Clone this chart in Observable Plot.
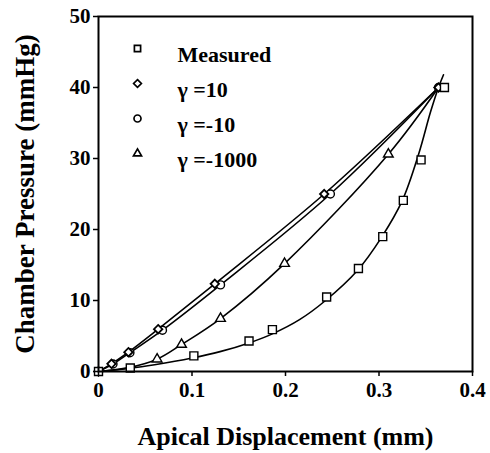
<!DOCTYPE html>
<html>
<head>
<meta charset="utf-8">
<script src="https://cdn.jsdelivr.net/npm/d3@7"></script>
<script src="https://cdn.jsdelivr.net/npm/@observablehq/plot@0.6"></script>
<style>
  html, body { margin: 0; padding: 0; background: #fff; }
  #chart svg { display: block; }
  #chart svg, #chart svg text { font-family: "Liberation Serif", "Times New Roman", serif !important; font-weight: bold; }
  g[aria-label="x-axis label"] text { font-size: 26px; }
  g[aria-label="y-axis label"] text { font-size: 27px; }
</style>
</head>
<body>
<div id="chart"></div>
<script>
// ---- data ----
const xTicks = [0, 0.1, 0.2, 0.3, 0.4];
const yTicks = [0, 10, 20, 30, 40, 50];

// Measured points (squares)
const measuredX = [0, 0.034, 0.102, 0.161, 0.186, 0.244, 0.278, 0.304, 0.326, 0.345, 0.370];
const measuredY = [0, 0.5, 2.2, 4.3, 5.9, 10.5, 14.5, 19.0, 24.1, 29.8, 40.0];
// Measured fitted curve
const measuredFitX = [0, 0.034, 0.06, 0.1, 0.13, 0.1626, 0.186, 0.215, 0.2428, 0.2767, 0.3027, 0.325, 0.3426, 0.355, 0.3636, 0.369];
const measuredFitY = [0, 0.45, 0.95, 1.9, 2.8, 4.1, 5.3, 7.3, 10.0, 14.2, 18.9, 24.1, 30.7, 36.5, 40.0, 41.8];

// gamma = 10 (diamonds)
const g10X = [0, 0.0139, 0.032, 0.0638, 0.1244, 0.2414, 0.3636];
const g10Y = [0, 1.08, 2.72, 5.96, 12.35, 25.0, 40.0];
// gamma = -10 (circles)
const gm10X = [0, 0.0155, 0.0336, 0.0684, 0.1305, 0.248, 0.3636];
const gm10Y = [0, 1.05, 2.65, 5.82, 12.2, 25.0, 40.0];
// gamma = -1000 (triangles)
const gm1000X = [0.0627, 0.0888, 0.1305, 0.199, 0.31];
const gm1000Y = [1.74, 3.8, 7.46, 15.2, 30.6];
const gm1000CurveX = [0, 0.032, 0.0627, 0.0888, 0.1305, 0.199, 0.31, 0.3636];
const gm1000CurveY = [0, 0.55, 1.74, 3.8, 7.46, 15.2, 30.6, 40.0];

const legendLabels = ["Measured", "γ =10", "γ =-10", "γ =-1000"];
const legendSymbols = ["square", "diamond2", "circle", "triangle"];

// ---- build ----
const zip = (xs, ys) => xs.map((x, i) => ({x, y: ys[i]}));
const measured = zip(measuredX, measuredY);
const measuredFit = zip(measuredFitX, measuredFitY);
const g10 = zip(g10X, g10Y);
const gm10 = zip(gm10X, gm10Y);
const gm1000 = zip(gm1000X, gm1000Y);
const gm1000Curve = zip(gm1000CurveX, gm1000CurveY);

const font = "Liberation Serif, Times New Roman, serif";
const curve = "catmull-rom";
const lw = 1.6;

const legendMarks = legendLabels.flatMap((label, i) => [
  Plot.dot([label], {frameAnchor: "top-left", dx: 39, dy: 32 + i * 35, symbol: () => legendSymbols[i], r: i === 3 ? 3 : 3.5, stroke: "black", strokeWidth: 1.7, fill: "white"}),
  Plot.text([label], {frameAnchor: "top-left", dx: 79, dy: 30 + i * 35, text: d => d, textAnchor: "start", fontSize: 22, fontWeight: "bold", fill: "black"})
]);

const chart = Plot.plot({
  width: 490,
  height: 453,
  marginLeft: 98,
  marginRight: 18,
  marginTop: 16,
  marginBottom: 82,
  style: {fontFamily: font, fontSize: "21px", fontWeight: "bold", color: "black", background: "white"},
  x: {domain: [0, 0.4]},
  y: {domain: [0, 50]},
  symbol: {domain: legendSymbols, range: legendSymbols},
  marks: [
    Plot.line(measuredFit, {x: "x", y: "y", curve, stroke: "black", strokeWidth: lw}),
    Plot.line(g10, {x: "x", y: "y", curve, stroke: "black", strokeWidth: lw}),
    Plot.line(gm10, {x: "x", y: "y", curve, stroke: "black", strokeWidth: lw}),
    Plot.line(gm1000Curve, {x: "x", y: "y", curve, stroke: "black", strokeWidth: lw}),
    Plot.dot(gm10, {x: "x", y: "y", symbol: () => "circle", r: 4, stroke: "black", strokeWidth: 1.4, fill: "white"}),
    Plot.dot(g10, {x: "x", y: "y", symbol: () => "diamond2", r: 3.8, stroke: "black", strokeWidth: 1.8, fill: "white"}),
    Plot.dot(gm1000, {x: "x", y: "y", symbol: () => "triangle", r: 3.6, stroke: "black", strokeWidth: 1.4, fill: "white"}),
    Plot.dot(measured, {x: "x", y: "y", symbol: () => "square", r: 4.5, stroke: "black", strokeWidth: 1.4, fill: "white"}),
    Plot.frame({stroke: "black", strokeWidth: 2}),
    Plot.axisX({ticks: xTicks, tickSize: 5, tickPadding: 6, tickFormat: d => String(d), strokeWidth: 1.5,
      label: "Apical Displacement (mm)", labelAnchor: "center", labelArrow: "none", labelOffset: 73}),
    Plot.axisY({ticks: yTicks, tickSize: 5, tickPadding: 3, tickFormat: d => String(d), strokeWidth: 1.5,
      label: "Chamber Pressure (mmHg)", labelAnchor: "center", labelArrow: "none", labelOffset: 84}),
    ...legendMarks
  ]
});
document.getElementById("chart").appendChild(chart);
</script>
</body>
</html>
